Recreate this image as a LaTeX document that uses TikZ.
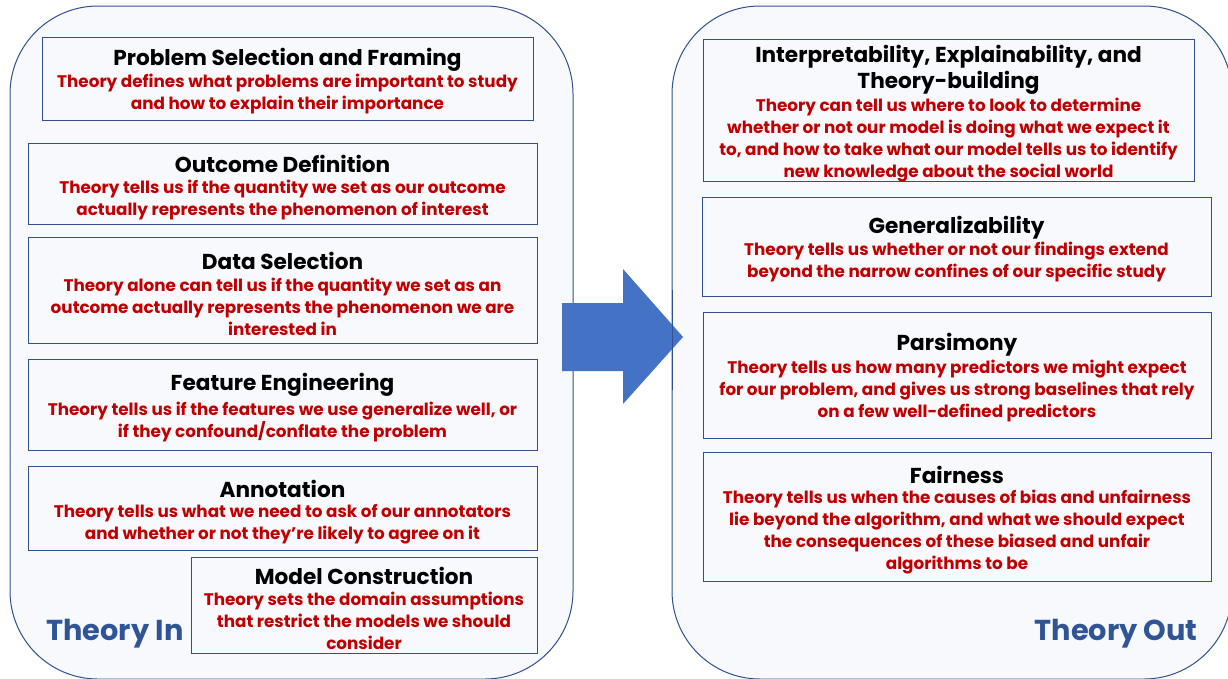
\documentclass[tikz,border=0pt]{standalone}
\usepackage{fontspec}
\setmainfont{Poppins}
\definecolor{panelfill}{RGB}{248,249,253}
\definecolor{lineblue}{RGB}{47,82,143}
\definecolor{arrowblue}{RGB}{68,114,196}
\definecolor{bodyred}{RGB}{192,0,0}
\definecolor{tagblue}{RGB}{47,85,151}
\newcommand{\ttlfont}{\fontsize{21.6}{26}\selectfont\bfseries}
\newcommand{\bdyfont}{\fontsize{16.8}{22}\selectfont\bfseries}
\begin{document}
\begin{tikzpicture}[x=1pt,y=-1pt,
  panel/.style={draw=lineblue, line width=1pt, fill=panelfill, rounded corners=88pt, inner sep=0pt, outer sep=0pt},
  box/.style={draw=lineblue, line width=1pt, fill=panelfill, inner sep=0pt, outer sep=0pt},
  ttl/.style={font=\ttlfont, text=black, align=center, inner sep=0pt, yshift=-2pt},
  bdy/.style={font=\bdyfont, text=bodyred, align=center, inner sep=0pt, yshift=-2pt},
  tag/.style={font=\fontsize{28.8}{32}\selectfont\bfseries, text=tagblue, inner sep=0pt, yshift=-3pt}]
\useasboundingbox (0,0) rectangle (1228,678);
% panels
\node[panel, minimum width=563pt, minimum height=673pt] (lp) at (291.5,342.5) {};
\node[panel, minimum width=560pt, minimum height=673pt] (rp) at (952,342.5) {};
% left boxes
\node[box, minimum width=491pt, minimum height=83pt] (b1) at (287.5,78.5) {};
\node[ttl] (b1t) at (287.5,58) {Problem Selection and Framing};
\node[bdy] (b1b) at (287.5,92.5) {Theory defines what problems are important to study\\and how to explain their importance};
\node[box, minimum width=509pt, minimum height=81pt] (b2) at (282.5,183.5) {};
\node[ttl] (b2t) at (282.5,162) {Outcome Definition};
\node[bdy] (b2b) at (282.5,198) {Theory tells us if the quantity we set as our outcome\\actually represents the phenomenon of interest};
\node[box, minimum width=509pt, minimum height=106pt] (b3) at (282.5,290) {};
\node[ttl] (b3t) at (282.5,259) {Data Selection};
\node[bdy] (b3b) at (282.5,305) {Theory alone can tell us if the quantity we set as an\\outcome actually represents the phenomenon we are\\interested in};
\node[box, minimum width=509pt, minimum height=91pt] (b4) at (282.5,404.5) {};
\node[ttl] (b4t) at (282.5,383) {Feature Engineering};
\node[bdy] (b4b) at (282.5,419.5) {Theory tells us if the features we use generalize well, or\\if they confound/conflate the problem};
\node[box, minimum width=509pt, minimum height=84pt] (b5) at (282.5,508) {};
\node[ttl] (b5t) at (282.5,487) {Annotation};
\node[bdy] (b5b) at (282.5,522) {Theory tells us what we need to ask of our annotators\\and whether or not they’re likely to agree on it};
\node[box, minimum width=346pt, minimum height=96pt] (b6) at (364,605) {};
\node[ttl] (b6t) at (364,574) {Model Construction};
\node[bdy] (b6b) at (364,619) {Theory sets the domain assumptions\\that restrict the models we should\\consider};
\node[tag] (tin) at (115,631) {Theory In};
% right boxes
\node[box, minimum width=491pt, minimum height=142pt] (r1) at (948.5,110) {};
\node[ttl] (r1t) at (948.5,68) {Interpretability, Explainability, and\\Theory-building};
\node[bdy] (r1b) at (948.5,138.5) {Theory can tell us where to look to determine\\whether or not our model is doing what we expect it\\to, and how to take what our model tells us to identify\\new knowledge about the social world};
\node[box, minimum width=509pt, minimum height=99pt] (r2) at (956.5,246.5) {};
\node[ttl] (r2t) at (956.5,226) {Generalizability};
\node[bdy] (r2b) at (956.5,260) {Theory tells us whether or not our findings extend\\beyond the narrow confines of our specific study};
\node[box, minimum width=508pt, minimum height=126pt] (r3) at (957,375) {};
\node[ttl] (r3t) at (957,343) {Parsimony};
\node[bdy] (r3b) at (957,389) {Theory tells us how many predictors we might expect\\for our problem, and gives us strong baselines that rely\\on a few well-defined predictors};
\node[box, minimum width=508pt, minimum height=129pt] (r4) at (957,516.5) {};
\node[ttl] (r4t) at (957,473) {Fairness};
\node[bdy] (r4b) at (957,530) {Theory tells us when the causes of bias and unfairness\\lie beyond the algorithm, and what we should expect\\the consequences of these biased and unfair\\algorithms to be};
\node[tag] (tout) at (1116,631) {Theory Out};
% arrow
\fill[arrowblue] (562,303) -- (623,303) -- (623,269) -- (683,337) -- (623,404) -- (623,371) -- (562,371) -- cycle;
\draw[lineblue, line width=1pt] (rp.west |- 0,290) -- (rp.west |- 0,390);
\end{tikzpicture}
\end{document}
